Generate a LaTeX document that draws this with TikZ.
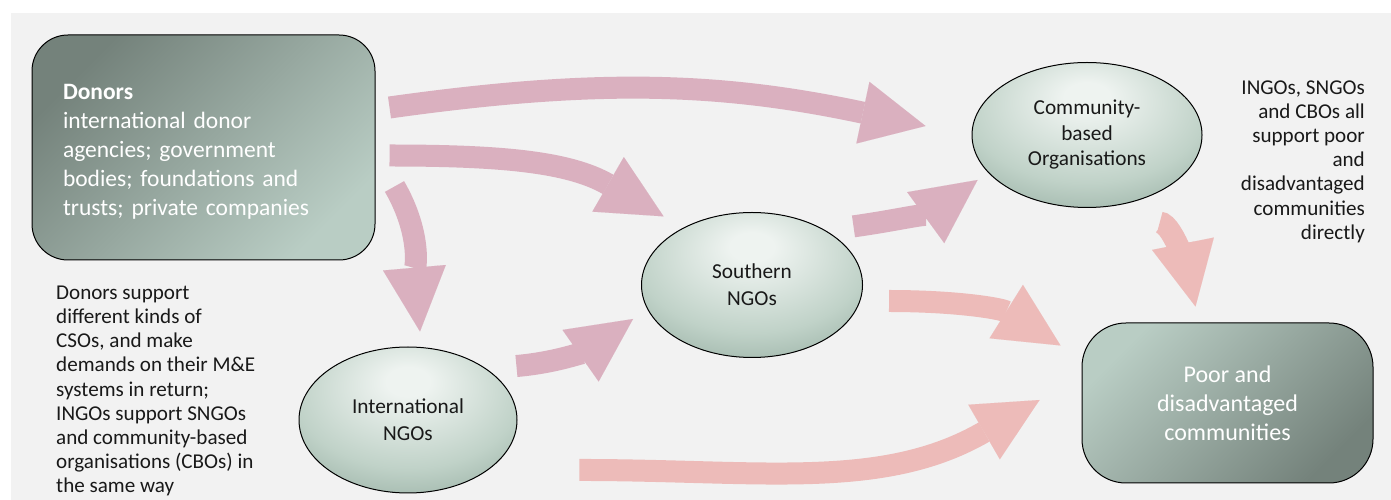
\documentclass[tikz,border=0pt]{standalone}
\usepackage{fontspec}
\setmainfont{Carlito}
\usetikzlibrary{shapes.geometric, arrows.meta}

\definecolor{panelgrey}{HTML}{F2F2F2}
\definecolor{boxdark}{HTML}{74827B}
\definecolor{boxlight}{HTML}{B9CDC4}
\definecolor{ovallight}{HTML}{EEF3F0}
\definecolor{ovalmid}{HTML}{C0D2C8}
\definecolor{ovaldark}{HTML}{7F9A8D}
\definecolor{mauve}{HTML}{DAB0BF}
\definecolor{salmon}{HTML}{EDBBB9}

\pgfdeclareradialshading{ovalglow}{\pgfpoint{0bp}{14bp}}{color(0bp)=(ovallight); color(5bp)=(ovallight); color(26bp)=(ovalmid); color(48bp)=(ovaldark); color(80bp)=(ovaldark)}

\begin{document}
\begin{tikzpicture}[x=1pt, y=1pt,
    roundbox/.style={rectangle, rounded corners=36pt, draw=black, line width=1pt, text=white, align=center},
    oval/.style={ellipse, draw=black, line width=1pt, shading=ovalglow, text=black!90, align=center, inner sep=0pt, font=\fontsize{21.3}{27}\selectfont},
    note/.style={inner sep=0pt, text=black!90, font=\fontsize{21.1}{24.2}\selectfont},
    flow/.style={line width=22pt, -{Triangle[quick, length=64pt, width=63pt, line width'=0.01pt]}}]

    % panel
    \fill[white] (0,0) rectangle (1391,500);
    \fill[panelgrey] (11,0) rectangle (1391,487);
    \useasboundingbox (0,0) rectangle (1391,500);

    \node[roundbox, top color=boxdark, bottom color=boxlight, shading angle=45, minimum width=343pt, minimum height=225pt, text width=281pt, inner xsep=31pt, align=left, font=\fontsize{23.5}{29}\selectfont] (donors) at (203.5,352.5) {\textbf{Donors}\rule{0pt}{23pt}\\international donor\\agencies; government\\bodies; foundations and\\trusts; private companies};
    \node[oval, minimum width=218pt, minimum height=146pt] (intl) at (408,80) {International\\NGOs};
    \node[oval, minimum width=221pt, minimum height=145pt] (south) at (752,215) {Southern\\NGOs};
    \node[oval, minimum width=230pt, minimum height=145pt, font=\fontsize{21.3}{25.5}\selectfont] (cbo) at (1087,365) {Community-\\based\\Organisations};
    \node[roundbox, top color=boxlight, bottom color=boxdark, shading angle=45, rounded corners=44pt, minimum width=291pt, minimum height=160pt, font=\fontsize{24}{29}\selectfont] (poor) at (1227.5,97) {Poor and\\disadvantaged\\communities};

    \node[note, anchor=west, align=left] (donornote) at (56,109) {Donors support\\different kinds of\\CSOs, and make\\demands on their M\&E\\systems in return;\\INGOs support SNGOs\\and community-based\\organisations (CBOs) in\\the same way};
    \node[note, anchor=east, align=right] (cbonote) at (1365,338.5) {INGOs, SNGOs\\and CBOs all\\support poor\\and\\disadvantaged\\communities\\directly};

    % support flows
    \draw[flow, draw=mauve] ([xshift=14pt, yshift=40pt]donors.east) to[out=8, in=168] ([xshift=-46pt, yshift=9pt]cbo.west);
    \draw[flow, draw=mauve] ([xshift=14pt, yshift=-8pt]donors.east) to[out=0, in=150] ([xshift=-10pt, yshift=17pt]south.north west);
    \draw[flow, draw=mauve] ([xshift=19pt, yshift=-39pt]donors.east) to[out=-60, in=95] ([xshift=12pt, yshift=15pt]intl.north);
    \draw[flow, draw=mauve] ([xshift=31pt, yshift=2pt]intl.north east) to[out=5, in=215] ([xshift=-8pt, yshift=-34pt]south.west);
    \draw[flow, draw=mauve] ([xshift=23pt, yshift=7pt]south.north east) to[out=8, in=216] ([xshift=6pt, yshift=-45pt]cbo.west);
    \draw[flow, draw=salmon] ([xshift=26pt, yshift=-16pt]south.east) to[out=0, in=148] ([xshift=-21pt, yshift=-23pt]poor.north west);
    \draw[flow, draw=salmon] ([xshift=-9pt, yshift=-36pt]cbo.south east) .. controls +(15,0) and +(-3,15) .. ([xshift=-32pt, yshift=16pt]poor.north);
    \draw[flow, draw=salmon] ([xshift=94pt, yshift=2pt]intl.south east) to[out=0, in=210] ([xshift=-42pt, yshift=3pt]poor.west);
\end{tikzpicture}
\end{document}
